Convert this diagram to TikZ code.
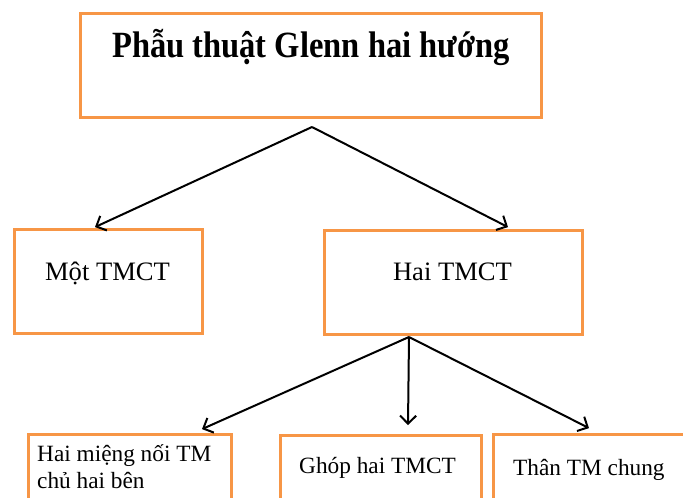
\documentclass[tikz,border=0pt]{standalone}
\usepackage{fontspec}
\setmainfont{Liberation Serif}
\newfontfamily\titlefam{Liberation Serif}[FakeStretch=0.88]
\usetikzlibrary{arrows.meta}
\definecolor{boxorange}{RGB}{247,150,70}
\tikzset{
  box/.style={draw=boxorange, line width=2.8pt, fill=white, inner sep=0pt, rectangle},
  lbl/.style={inner sep=0pt, text=black},
  arr/.style={draw=black, line width=2pt, -{Straight Barb[length=8pt,width=16pt]}},
  titlefont/.style={font=\titlefam\fontsize{37}{44}\selectfont\bfseries},
  midfont/.style={font=\fontsize{26.6}{32}\selectfont},
  lowfont/.style={font=\fontsize{23.3}{27}\selectfont},
}
\begin{document}
\begin{tikzpicture}[x=1pt, y=-1pt]
  \useasboundingbox (0,0) rectangle (683,498);
  \clip (0,0) rectangle (683,498);

  % boxes
  \node[box, minimum width=461pt, minimum height=104pt] (title) at (311,65.5) {};
  \node[box, minimum width=188pt, minimum height=104pt] (mot) at (108.5,281.5) {};
  \node[box, minimum width=258pt, minimum height=104pt] (hai) at (453.5,282.5) {};
  \node[box, minimum width=203pt, minimum height=86pt] (mieng) at (130,477.5) {};
  \node[box, minimum width=201pt, minimum height=86pt] (ghop) at (381,478.5) {};
  \node[box, minimum width=206.5pt, minimum height=86pt] (than) at (596.75,477.5) {};

  % texts
  \node[lbl, titlefont, anchor=base] (titletxt) at (311,57.3) {Phẫu thuật Glenn hai hướng};
  \node[lbl, midfont, anchor=base] (mottxt) at (107.5,280) {Một TMCT};
  \node[lbl, midfont, anchor=base] (haitxt) at (452.5,280) {Hai TMCT};
  \node[lbl, lowfont, anchor=base west, align=left] (miengtxt) at (37,488) {Hai miệng nối TM\\chủ hai bên};
  \node[lbl, lowfont, anchor=base west] (ghoptxt) at (299,473.3) {Ghóp hai TMCT};
  \node[lbl, lowfont, anchor=base west] (thantxt) at (513,475) {Thân TM chung};

  % connector origins
  \coordinate (ts) at (312,127);
  \coordinate (hs) at (409,337);

  % connectors
  \draw[arr] (ts) -- ([xshift=-13.5pt, yshift=1pt]mot.north);
  \draw[arr] (ts) -- ([xshift=54.5pt, yshift=2pt]hai.north);
  \draw[arr] (hs) -- ([xshift=72pt, yshift=4pt]mieng.north);
  \draw[arr] (hs) -- ([xshift=27pt, yshift=9pt]ghop.north);
  \draw[arr] (hs) -- ([xshift=-7.75pt, yshift=5pt]than.north);
\end{tikzpicture}
\end{document}
